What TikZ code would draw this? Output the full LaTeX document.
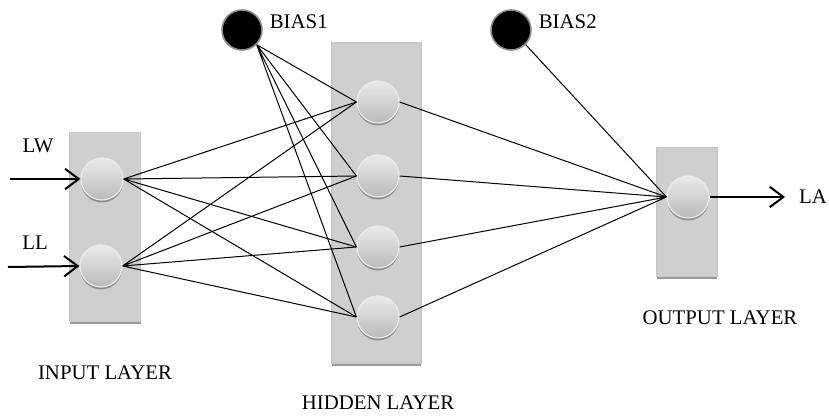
\documentclass[tikz,border=0pt]{standalone}
\usepackage{fontspec}
\setmainfont{Liberation Serif}
\usetikzlibrary{arrows.meta,positioning,shadows}

\begin{document}
\begin{tikzpicture}[
  x=0.5pt, y=-0.5pt,
  font=\fontsize{10.4}{12}\selectfont,
  layer/.style={rectangle, draw=black!22, fill=black!19, line width=0.6pt, general shadow={fill=black!40, shadow yshift=-1.3pt}},
  neuron/.style={circle, minimum size=21pt, inner sep=0pt, draw=black!8, line width=0.6pt, top color=black!8, bottom color=black!27, general shadow={fill=black!45, shadow yshift=-1.2pt}},
  bias/.style={circle, minimum size=20pt, inner sep=0pt, fill=black, draw=black!45, line width=0.8pt},
  link/.style={line width=0.5pt},
  arrow/.style={-{Straight Barb[length=2.4mm, width=3.6mm]}, line width=1pt}
]
\useasboundingbox (0,0) rectangle (829,417);

% layer boxes
\node[layer, minimum width=35.5pt, minimum height=94.5pt] (inbox) at (105,227) {};
\node[layer, minimum width=44.5pt, minimum height=160pt] (hidbox) at (376.5,203) {};
\node[layer, minimum width=30pt, minimum height=64.5pt] (outbox) at (687,212) {};

% neurons
\node[neuron] (lw) at (102,179) {};
\node[neuron] (ll) at (101,266) {};
\node[neuron] (h1) at (378,102) {};
\node[neuron] (h2) at (378,176) {};
\node[neuron] (h3) at (378,247) {};
\node[neuron] (h4) at (378,317) {};
\node[neuron] (out) at (688,197) {};
\node[bias] (b1) at (242,30) {};
\node[bias] (b2) at (511,30) {};

% labels
\node[anchor=west] at (b1.east) [yshift=4pt] {BIAS1};
\node[anchor=west] at (b2.east) [yshift=4pt] {BIAS2};
\node (lwlab) at (38,146) {LW};
\node (lllab) at (35,243) {LL};
\node (lalab) at (813,197) {LA};
\node (inlab) at (105,373) {INPUT LAYER};
\node (hidlab) at (378,403) {HIDDEN LAYER};
\node (outlab) at (720,318) {OUTPUT LAYER};
\coordinate (lwin) at (10,179);
\coordinate (llin) at (8,267);
\coordinate (laout) at (785,197);

% inputs and output
\draw[arrow] (lwin) -- (lw.west);
\draw[arrow] (llin) -- (ll.west);
\draw[arrow] (out.east) -- (laout);

% input to hidden
\draw[link] (lw.east) -- (h1.west) (lw.east) -- (h2.west) (lw.east) -- (h3.west) (lw.east) -- (h4.west);
\draw[link] (ll.east) -- (h1.west) (ll.east) -- (h2.west) (ll.east) -- (h3.west) (ll.east) -- (h4.west);
\draw[link] (b1.south east) -- (h1.west) (b1.south east) -- (h2.west) (b1.south east) -- (h3.west) (b1.south east) -- (h4.west);

% hidden to output
\draw[link] (h1.east) -- (out.west) (h2.east) -- (out.west) (h3.east) -- (out.west) (h4.east) -- (out.west);
\draw[link] (b2.south east) -- (out.west);
\end{tikzpicture}
\end{document}
